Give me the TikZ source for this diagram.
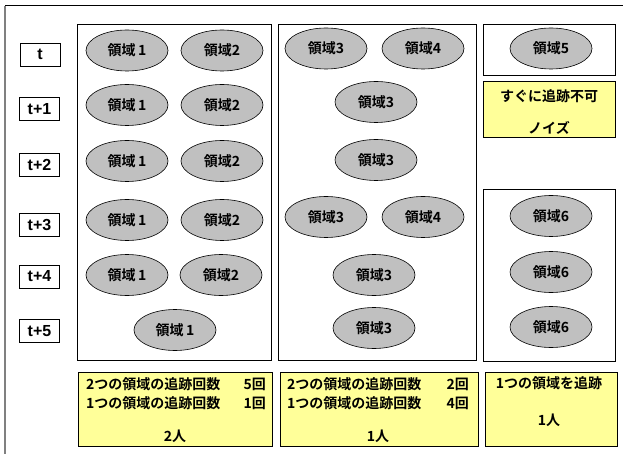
\documentclass[tikz,border=0pt]{standalone}
\usepackage{fontspec}
\setmainfont{Liberation Sans}
\newfontfamily\jp{Noto Sans CJK JP}[BoldFont={Noto Sans CJK JP Bold}]
\usetikzlibrary{shapes.geometric}
\definecolor{ellgray}{HTML}{C0C0C0}
\definecolor{noteyellow}{HTML}{FFFF99}
\tikzset{
  panel/.style={draw=black, line width=0.8pt, fill=white},
  yellowbox/.style={draw=black, line width=0.8pt, fill=noteyellow},
  region/.style={ellipse, draw=black, line width=0.6pt, fill=ellgray,
    minimum width=82pt, minimum height=41pt, inner sep=0pt,
    font=\jp\bfseries\fontsize{14}{16}\selectfont},
  tlabel/.style={draw=black, line width=0.6pt, minimum width=40pt, minimum height=23pt,
    inner sep=0pt, font=\bfseries\fontsize{16}{18}\selectfont},
  jtext/.style={inner sep=0pt, font=\jp\bfseries\fontsize{14}{16}\selectfont},
}
\begin{document}
\begin{tikzpicture}[x=1pt,y=-1pt]
\useasboundingbox (0,0) rectangle (623,454);
% outer frame
\coordinate (fl) at (5,454);
\coordinate (ftl) at (5,6);
\coordinate (ftr) at (623,6);
\draw[line width=1.6pt, gray] (fl) -- (ftl);
\draw[line width=1pt, black] (ftl) -- (ftr);
% panels
\draw[panel] (77,24) rectangle (271,360);
\draw[panel] (278,24) rectangle (476,360);
\draw[panel] (483,24) rectangle (615,75);
\draw[yellowbox] (483,81) rectangle (615,137);
\draw[panel] (483,189) rectangle (615,361);
\draw[yellowbox] (78,372) rectangle (272,446);
\draw[yellowbox] (280,372) rectangle (478,446);
\draw[yellowbox] (485,372) rectangle (617,446);
% time labels
\node[tlabel] (t0) at (40,54.5) {t};
\node[tlabel] (t1) at (39.5,109) {t+1};
\node[tlabel] (t2) at (39.5,165) {t+2};
\node[tlabel] (t3) at (39.5,225) {t+3};
\node[tlabel] (t4) at (39.5,276.5) {t+4};
\node[tlabel] (t5) at (39.5,331) {t+5};
% panel 1
\node[region] (a1) at (127,50.5) {領域\,1};
\node[region] (a2) at (222,50.5) {領域2};
\node[region] (b1) at (127,105) {領域\,1};
\node[region] (b2) at (222,105) {領域2};
\node[region] (c1) at (127,161) {領域\,1};
\node[region] (c2) at (222,161) {領域2};
\node[region] (d1) at (127,220) {領域\,1};
\node[region] (d2) at (222,220) {領域2};
\node[region] (e1) at (127,275) {領域\,1};
\node[region] (e2) at (221,275) {領域2};
\node[region] (f1) at (175,330) {領域\,1};
% panel 2
\node[region] (a3) at (326,48.5) {領域3};
\node[region] (a4) at (423,48.5) {領域4};
\node[region] (b3) at (376,102) {領域3};
\node[region] (c3) at (376,160) {領域3};
\node[region] (d3) at (326,217) {領域3};
\node[region] (d4) at (423,217) {領域4};
\node[region] (e3) at (374,275) {領域3};
\node[region] (f3) at (374,328) {領域3};
% panel 3
\node[region] (a5) at (551,48.5) {領域5};
\node[jtext] (n1) at (549,96) {すぐに追跡不可};
\node[jtext] (n2) at (549,128) {ノイズ};
% panel 4
\node[region] (d6) at (551,216) {領域6};
\node[region] (e6) at (551,272) {領域6};
\node[region] (f6) at (551,327) {領域6};
% bottom texts
\node[jtext, anchor=west] (s1a) at (86,384) {2つの領域の追跡回数};
\node[jtext, anchor=east] (s1b) at (266,384) {5回};
\node[jtext, anchor=west] (s1c) at (86,403) {1つの領域の追跡回数};
\node[jtext, anchor=east] (s1d) at (266,403) {1回};
\node[jtext] (s1e) at (175,436) {2人};
\node[jtext, anchor=west] (s2a) at (287,384) {2つの領域の追跡回数};
\node[jtext, anchor=east] (s2b) at (469,384) {2回};
\node[jtext, anchor=west] (s2c) at (287,403) {1つの領域の追跡回数};
\node[jtext, anchor=east] (s2d) at (469,403) {4回};
\node[jtext] (s2e) at (378,436) {1人};
\node[jtext] (s3a) at (549,383) {1つの領域を追跡};
\node[jtext] (s3b) at (549,420) {1人};
\end{tikzpicture}
\end{document}
